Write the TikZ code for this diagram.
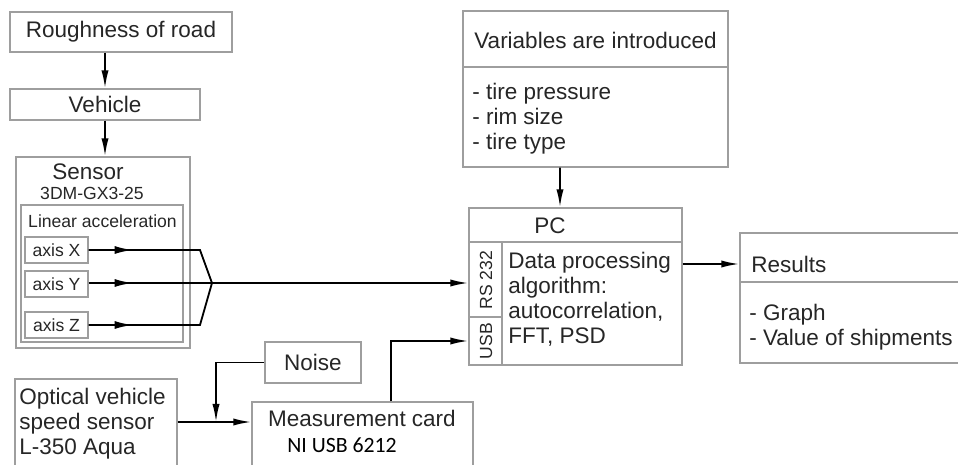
\documentclass[tikz,border=0pt]{standalone}
\usepackage{fontspec}
\setmainfont{Liberation Sans}
\newfontfamily\cardfont{Carlito}
\usetikzlibrary{arrows.meta,decorations.markings}
\begin{document}
\begin{tikzpicture}[
        x=0.025cm, y=-0.025cm,
        every node/.style={text=black!85, font=\fontsize{16pt}{17.8pt}\selectfont},
        small/.style={font=\fontsize{12.5pt}{14pt}\selectfont},
        box/.style={draw=black!38, line width=0.9pt, inner sep=0pt},
        list/.style={align=left, inner sep=0pt, anchor=west},
        arr/.style={-{Latex[length=4.5mm,width=1.8mm]}, line width=1.3pt},
        wire/.style={line width=1.3pt},
        midarrow/.style={postaction={decorate}, decoration={markings,
            mark=at position 1.1cm with {\arrow{Latex[length=4.5mm,width=2mm]}}}}
    ]
    \useasboundingbox (0,0) rectangle (958,465);
    % left column
    \node[box, minimum width=5.55cm, minimum height=1cm] (road) at (121,32) {Roughness of road};
    \node[box, minimum width=4.75cm, minimum height=0.775cm] (vehicle) at (105,104.5) {Vehicle};
    \node[box, minimum width=4.35cm, minimum height=4.775cm] (sensor) at (103,252.5) {};
    \node (sensortitle) at (88,172) {Sensor};
    \node[small] (sensortype) at (92,193) {3DM-GX3-25};
    \node[box, minimum width=4.05cm, minimum height=3.425cm] (linear) at (102,273.5) {};
    \node[small] (lineartitle) at (102.5,221) {Linear acceleration};
    \node[box, small, minimum width=1.575cm, minimum height=0.65cm] (axx) at (56.5,250) {axis X};
    \node[box, small, minimum width=1.575cm, minimum height=0.65cm] (axy) at (56.5,284) {axis Y};
    \node[box, small, minimum width=1.575cm, minimum height=0.65cm] (axz) at (56.5,325) {axis Z};
    \coordinate (merge) at (212,283);
    % bottom row
    \node[box, minimum width=4.05cm, minimum height=2.4cm] (optical) at (96,427) {};
    \node[list] (opticaltext) at (19,424) {Optical vehicle\\speed sensor\\L-350 Aqua};
    \node[box, minimum width=2.4cm, minimum height=1.025cm] (noise) at (313,362.5) {Noise};
    \node[box, minimum width=5.525cm, minimum height=1.825cm] (card) at (362.5,438.5) {};
    \node (cardtitle) at (362,418) {Measurement card};
    \node[font=\cardfont\fontsize{15.5pt}{17pt}\selectfont, text=black] (cardtype) at (342,445) {NI USB 6212};
    \coordinate (join) at (216,422);
    % right part
    \node[box, minimum width=6.625cm, minimum height=3.9cm] (vars) at (595.5,89) {};
    \draw[black!38, line width=0.9pt] (vars.west |- 0,67) -- (vars.east |- 0,67);
    \node (varstitle) at (595.5,40) {Variables are introduced};
    \node[list] (varslist) at (472,119) {- tire pressure\\- rim size\\- tire type};
    \node[box, minimum width=5.325cm, minimum height=3.925cm] (pc) at (575.5,286.5) {};
    \draw[black!38, line width=0.9pt] (pc.west |- 0,242) -- (pc.east |- 0,242)
        (502,242) -- (502,365) (pc.west |- 0,317) -- (502,317);
    \node (pctitle) at (550,226) {PC};
    \node[small, rotate=90] (rs) at (486,280) {RS 232};
    \node[small, rotate=90] (usb) at (486,341) {USB};
    \node[list] (pctext) at (508,299) {Data processing\\algorithm:\\autocorrelation,\\FFT, PSD};
    \node[box, minimum width=5.55cm, minimum height=3.25cm] (results) at (851,298) {};
    \draw[black!38, line width=0.9pt] (results.west |- 0,282) -- (results.east |- 0,282);
    \node[list] (restitle) at (751,264) {Results};
    \node[list] (reslist) at (749,327.5) {- Graph\\- Value of shipments};
    % connectors
    \draw[arr] (road.south -| vehicle) -- (vehicle.north);
    \draw[arr] (vehicle.south) -- (vehicle.south |- sensor.north);
    \draw[wire, midarrow] (axx.east) -- (axx.east -| 200,0) -- (merge);
    \draw[wire, midarrow] (axz.east) -- (axz.east -| 200,0) -- (merge);
    \draw[wire, midarrow] (axy.east |- merge) -- (merge);
    \draw[arr] (merge) -- (pc.west |- merge);
    \draw[arr] ([xshift=-0.8875cm]vars.south) -- ([xshift=-0.3875cm]pc.north);
    \draw[arr] (pc.east |- restitle) -- (results.west |- restitle);
    \draw[arr] (optical.east |- join) -- (card.west |- join);
    \draw[arr] (noise.west) -| (join);
    \draw[arr] ([xshift=0.7125cm]card.north) |- (pc.west |- usb);
\end{tikzpicture}
\end{document}
